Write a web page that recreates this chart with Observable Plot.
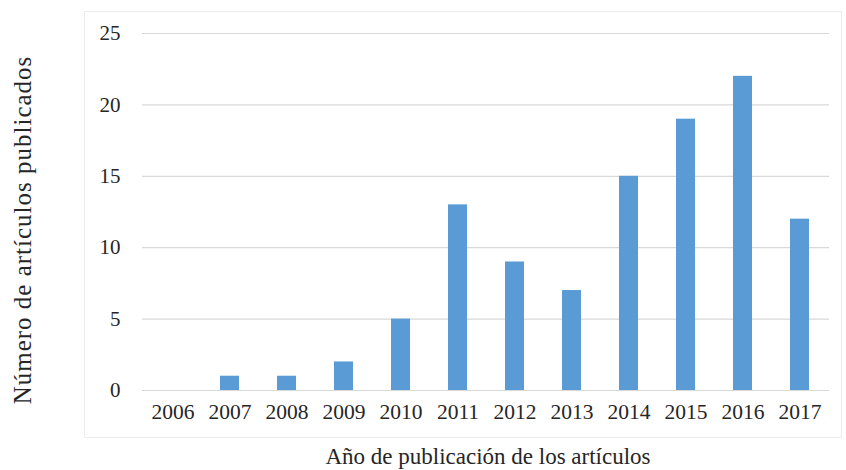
<!DOCTYPE html>
<html>
<head>
<meta charset="utf-8">
<script src="https://cdn.jsdelivr.net/npm/d3@7"></script>
<script src="https://cdn.jsdelivr.net/npm/@observablehq/plot@0.6"></script>
<style>
  html, body { margin: 0; padding: 0; background: #fff; }
  #wrap { position: relative; width: 846px; height: 470px; }
  #frame { position: absolute; left: 84px; top: 11px; width: 758px; height: 427px; border: 1px solid #ececec; box-sizing: border-box; pointer-events: none; }
  #chart { position: absolute; left: 0; top: 0; }
  .ytitle text { letter-spacing: 1px; }
</style>
</head>
<body>
<div id="wrap"><div id="frame"></div><div id="chart"></div></div>
<script>
const years = ["2006","2007","2008","2009","2010","2011","2012","2013","2014","2015","2016","2017"];
const counts = [0, 1, 1, 2, 5, 13, 9, 7, 15, 19, 22, 12];
const yTicks = [0, 5, 10, 15, 20, 25];
const xTitle = "Año de publicación de los artículos";
const yTitle = "Número de artículos publicados";

const data = years.map((y, i) => ({year: y, n: counts[i]}));

const chart = Plot.plot({
  width: 846,
  height: 470,
  marginLeft: 142,
  marginRight: 17,
  marginTop: 33,
  marginBottom: 80,
  style: {fontFamily: "'Liberation Serif', 'DejaVu Serif', serif", fontSize: "21px", color: "#262626", background: "transparent"},
  x: {domain: years, paddingInner: 0.67, paddingOuter: 0.335, align: 0.5},
  y: {domain: [0, 25]},
  marks: [
    Plot.gridY(yTicks, {stroke: "#d9d9d9", strokeOpacity: 1, strokeWidth: 1.2}),
    Plot.barY(data, {x: "year", y: "n", fill: "#5b9bd5"}),
    Plot.axisY(yTicks, {tickSize: 0, tickPadding: 22, label: null, fontSize: 21}),
    Plot.axisX({tickSize: 0, tickPadding: 13, label: null, fontSize: 21.5}),
    Plot.text([yTitle], {frameAnchor: "left", textAnchor: "middle", rotate: -90, dx: -120, dy: 18, fontSize: 25, fill: "#262626", className: "ytitle"}),
    Plot.text([xTitle], {frameAnchor: "bottom", dy: 73, dx: 2, fontSize: 23, fill: "#262626"})
  ]
});
document.getElementById("chart").appendChild(chart);
</script>
</body>
</html>
